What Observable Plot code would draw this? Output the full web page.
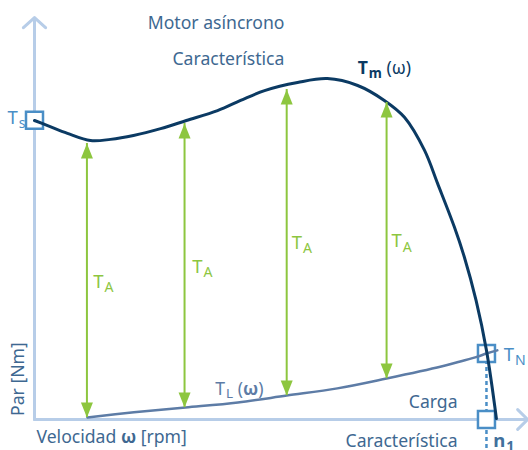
<!DOCTYPE html>
<html><head><meta charset="utf-8">
<script src="https://cdn.jsdelivr.net/npm/d3@7"></script>
<script src="https://cdn.jsdelivr.net/npm/@observablehq/plot@0.6"></script>
<style>body{margin:0;background:#fff} svg{display:block}</style>
</head><body><div id="chart"></div>
<script>
// Motor torque characteristic Tm(ω): speed in % of n1, torque in % of Ts
const motorSpeed  = [0, 2.9, 7.3, 12.4, 16.8, 21.9, 27.9, 33.6, 40.5, 45.6, 50.9, 58.2, 64.8, 71.5, 77.4, 81.9, 86.3, 89.2, 92.9, 95.1, 97.7, 100, 102.2];
const motorTorque = [99.9, 98.2, 95.6, 93.2, 93.6, 94.9, 97.2, 99.9, 103.2, 106.6, 109.9, 112.6, 113.9, 111.6, 106.6, 100.9, 89.9, 78.8, 64.3, 54.3, 39.8, 23.1, 0.3];
// Load characteristic TL(ω)
const loadSpeed  = [11.7, 22, 33.4, 45, 55.8, 67, 77.9, 90, 94.2, 98, 100, 102.4];
const loadTorque = [0.7, 2.4, 4.0, 5.7, 8.0, 10.4, 13.7, 17.7, 19.4, 21.0, 22.05, 23.1];
// Acceleration torque TA arrows
const accelSpeed = [11.6, 33.2, 55.8, 77.9];
const accelLow   = [0.7, 4.0, 8.0, 13.7];
const accelHigh  = [92.2, 98.9, 110.3, 105.9];
// Key points
const startTorque = 100;   // Ts
const ratedTorque = 22.05; // TN
const syncSpeed = 100;     // n1
const axisTop = 134.3;
const axisRight = 109.1;

const motor = motorSpeed.map((s, i) => ({speed: s, torque: motorTorque[i]}));
const load = loadSpeed.map((s, i) => ({speed: s, torque: loadTorque[i]}));
const accel = accelSpeed.map((s, i) => ({speed: s, low: accelLow[i], high: accelHigh[i]}));
const markers = [
  {speed: 0, torque: startTorque},
  {speed: syncSpeed, torque: ratedTorque},
  {speed: syncSpeed, torque: 0}
];

// Annotation labels (data coordinates)
const titleLabels = [
  {text: "Motor asíncrono", speed: 55.3, torque: 130.6},
  {text: "Característica", speed: 55.3, torque: 118.4}
];
const loadTitleLabels = [
  {text: "Carga", speed: 93.6, torque: 3.7},
  {text: "Característica", speed: 93.6, torque: -9.2}
];
const taLabels = [
  {text: "T_A", speed: 13.0, torque: 44.1},
  {text: "T_A", speed: 34.9, torque: 49.1},
  {text: "T_A", speed: 56.9, torque: 57.1},
  {text: "T_A", speed: 79.0, torque: 57.5}
];

const axisColor = "#b7cde8";
const motorColor = "#0b3a63";
const loadColor = "#5d7ca6";
const markerColor = "#4a8ec6";
const green = "#8dc63f";
const textColor = "#3e6891";

const headUp = {draw(ctx) { ctx.moveTo(0, 0); ctx.lineTo(6, 15); ctx.lineTo(-6, 15); ctx.closePath(); }};
const headDown = {draw(ctx) { ctx.moveTo(0, 0); ctx.lineTo(6, -15); ctx.lineTo(-6, -15); ctx.closePath(); }};
const box = {draw(ctx) { ctx.rect(-8.5, -8.5, 17, 17); }};

const plot = Plot.plot({
  width: 528, height: 450,
  marginLeft: 34, marginRight: 0, marginTop: 0, marginBottom: 31,
  x: {domain: [0, 109.3], axis: null},
  y: {domain: [0, 140], axis: null},
  style: {fontFamily: "'Noto Sans', sans-serif", background: "#fff"},
  marks: [
    Plot.arrow([{a: 0}], {x1: 0, y1: 0, x2: 0, y2: axisTop, stroke: axisColor, strokeWidth: 3, headLength: 7.5, headAngle: 95}),
    Plot.arrow([{a: 0}], {x1: 0, y1: 0, x2: axisRight, y2: 0, stroke: axisColor, strokeWidth: 3, headLength: 7, headAngle: 90}),
    Plot.ruleX([syncSpeed], {x: d => d, y1: ratedTorque, y2: -10.5, stroke: markerColor, strokeWidth: 2.5, strokeDasharray: "4,3"}),
    Plot.dot(markers, {x: "speed", y: "torque", symbol: box, fill: "#fff", stroke: markerColor, strokeWidth: 2.5}),
    Plot.line(load, {x: "speed", y: "torque", curve: "catmull-rom", stroke: loadColor, strokeWidth: 2.5}),
    Plot.line(motor, {x: "speed", y: "torque", curve: "catmull-rom", stroke: motorColor, strokeWidth: 3}),
    Plot.ruleX(accel, {x: "speed", y1: "low", y2: "high", stroke: green, strokeWidth: 2}),
    Plot.dot(accel, {x: "speed", y: "high", symbol: headUp, fill: green, stroke: null}),
    Plot.dot(accel, {x: "speed", y: "low", symbol: headDown, fill: green, stroke: null}),
    Plot.text(titleLabels, {x: "speed", y: "torque", text: "text", textAnchor: "end", lineAnchor: "bottom", fontSize: 17.6, fill: textColor}),
    Plot.text(loadTitleLabels, {x: "speed", y: "torque", text: "text", textAnchor: "end", lineAnchor: "bottom", fontSize: 17.6, fill: textColor}),
    Plot.text(taLabels, {x: "speed", y: "torque", text: "text", textAnchor: "start", lineAnchor: "bottom", fontSize: 18.5, fill: green}),
    Plot.text([{t: "T_m# (ω)#"}], {x: 71.5, y: 115.3, text: "t", textAnchor: "start", lineAnchor: "bottom", fontSize: 17.6, fontWeight: "bold", fill: motorColor}),
    Plot.text([{t: "T_L (*ω*)"}], {x: 40.0, y: 8.35, text: "t", textAnchor: "start", lineAnchor: "bottom", fontSize: 17.6, fill: loadColor}),
    Plot.text([{t: "T_s"}], {x: -6.0, y: 98.9, text: "t", textAnchor: "start", lineAnchor: "bottom", fontSize: 18.5, fill: markerColor}),
    Plot.text([{t: "T_N"}], {x: 103.8, y: 19.7, text: "t", textAnchor: "start", lineAnchor: "bottom", fontSize: 18.5, fill: markerColor}),
    Plot.text([{t: "n_1"}], {x: 101.5, y: -9.2, text: "t", textAnchor: "start", lineAnchor: "bottom", fontSize: 18.5, fontWeight: "bold", fill: "#41709c"}),
    Plot.text([{t: "Velocidad *ω* [rpm]"}], {x: 0.44, y: -8.0, text: "t", textAnchor: "start", lineAnchor: "bottom", fontSize: 17.6, fill: textColor}),
    Plot.text([{t: "Par [Nm]"}], {x: -2.43, y: 13.5, text: "t", rotate: -90, textAnchor: "middle", lineAnchor: "bottom", fontSize: 17.6, fill: textColor})
  ]
});
document.getElementById("chart").appendChild(plot);

// Rich text: _x = subscript, *x* = bold, #x# = normal weight
const NS = "http://www.w3.org/2000/svg";
d3.select(plot).selectAll("text").each(function () {
  const s = this.textContent;
  if (!/[_*#]/.test(s)) return;
  const fs = parseFloat(getComputedStyle(this).fontSize);
  const parts = [...s.matchAll(/_([^\s#*]+)|\*([^*]+)\*|#([^#]+)#|([^_*#]+)/g)];
  this.textContent = "";
  let shifted = 0;
  for (const m of parts) {
    const t = document.createElementNS(NS, "tspan");
    if (m[1]) {
      const d = fs * 0.22;
      t.textContent = m[1];
      t.setAttribute("font-size", (fs * 0.76).toFixed(1));
      t.setAttribute("dy", (d - shifted).toFixed(1));
      t.setAttribute("dx", "1");
      shifted = d;
    } else {
      t.textContent = m[2] ?? m[3] ?? m[4];
      if (shifted) { t.setAttribute("dy", (-shifted).toFixed(1)); shifted = 0; }
      if (m[2]) t.setAttribute("font-weight", "bold");
      if (m[3]) t.setAttribute("font-weight", "normal");
    }
    this.appendChild(t);
  }
});
</script>
</body></html>
